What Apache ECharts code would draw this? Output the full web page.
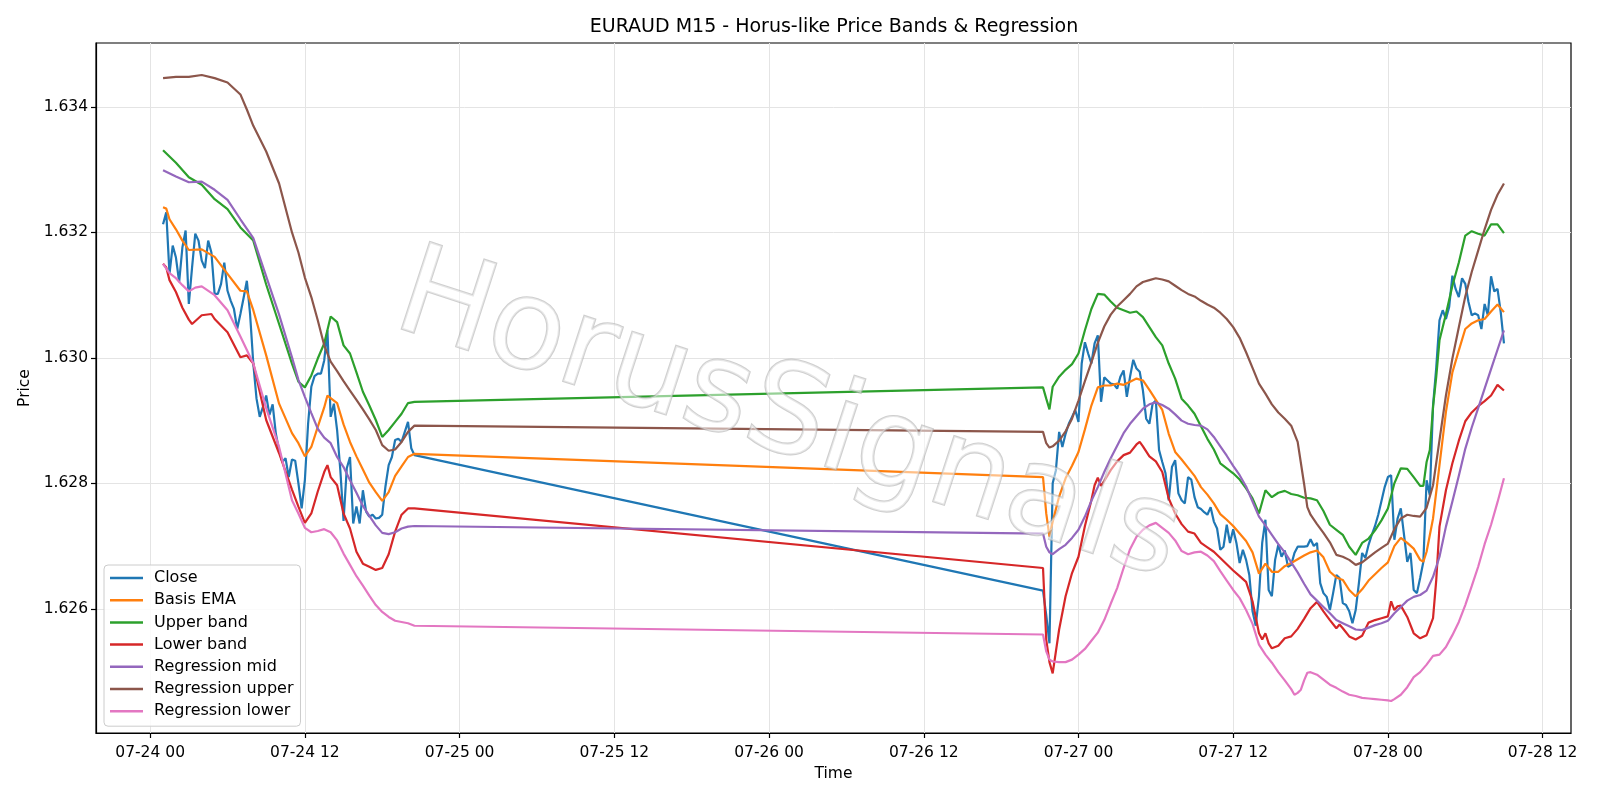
<!DOCTYPE html>
<html>
<head>
<meta charset="utf-8">
<title>EURAUD M15</title>
<script src="https://cdn.jsdelivr.net/npm/echarts@6/dist/echarts.min.js"></script>
<style>
  html, body { margin: 0; padding: 0; background: #fff; }
  #chart { width: 1600px; height: 800px; }
</style>
</head>
<body>
<div id="chart"></div>
<script>
// hours are counted from 2025-07-24 00:00 (UTC)
const BASE_UTC = Date.UTC(2025, 6, 24);
const hoursToMs = h => BASE_UTC + h * 3600 * 1000;

const xTickHours = [0, 12, 24, 36, 48, 60, 72, 84, 96, 108];
const yTicks = [1.626, 1.628, 1.630, 1.632, 1.634];

// Close, 15 min bars: first block starts 07-24 01:00, second block 07-26 21:15
const closeStart1 = 1;
const closeDay1 = [
  1.63213, 1.63232, 1.63134, 1.63179,
  1.63160, 1.63121, 1.63176, 1.63203,
  1.63086, 1.63144, 1.63198, 1.63187,
  1.63155, 1.63143, 1.63187, 1.63168,
  1.63102, 1.63102, 1.63118, 1.63152,
  1.63107, 1.63091, 1.63078, 1.63046,
  1.63070, 1.63096, 1.63123, 1.63070,
  1.62991, 1.62935, 1.62906, 1.62922,
  1.62940, 1.62909, 1.62926, 1.62879,
  1.62853, 1.62834, 1.62840, 1.62810,
  1.62838, 1.62836, 1.62800, 1.62760,
  1.62805, 1.62895, 1.62954, 1.62971,
  1.62975, 1.62975, 1.62996, 1.63044,
  1.62906, 1.62927, 1.62885, 1.62821,
  1.62740, 1.62824, 1.62842, 1.62736,
  1.62763, 1.62736, 1.62789, 1.62755,
  1.62747, 1.62750, 1.62744, 1.62745,
  1.62750, 1.62795, 1.62829, 1.62842,
  1.62869, 1.62871, 1.62866, 1.62882,
  1.62898, 1.62856, 1.62845
];
const closeStart2 = 69.25;
const closeDay2 = [
  1.62629, 1.62590, 1.62545,
  1.62800, 1.62821, 1.62882, 1.62858,
  1.62879, 1.62895, 1.62906, 1.62917,
  1.62898, 1.62991, 1.63025, 1.63007,
  1.62991, 1.63023, 1.63036, 1.62930,
  1.62969, 1.62964, 1.62959, 1.62958,
  1.62951, 1.62970, 1.62980, 1.62938,
  1.62970, 1.62997, 1.62983, 1.62978,
  1.62948, 1.62903, 1.62895, 1.62927,
  1.62932, 1.62853, 1.62834, 1.62816,
  1.62773, 1.62826, 1.62837, 1.62784,
  1.62773, 1.62768, 1.62810, 1.62806,
  1.62778, 1.62762, 1.62759, 1.62754,
  1.62750, 1.62762, 1.62739, 1.62728,
  1.62694, 1.62699, 1.62734, 1.62705,
  1.62727, 1.62705, 1.62673, 1.62694,
  1.62678, 1.62654, 1.62596, 1.62573,
  1.62620, 1.62705, 1.62742, 1.62630,
  1.62620, 1.62678, 1.62702, 1.62683,
  1.62693, 1.62667, 1.62670, 1.62689,
  1.62699, 1.62699, 1.62699, 1.62700,
  1.62711, 1.62700, 1.62705, 1.62641,
  1.62625, 1.62619, 1.62598, 1.62625,
  1.62654, 1.62649, 1.62609, 1.62606,
  1.62596, 1.62577, 1.62598, 1.62641,
  1.62689, 1.62681, 1.62702, 1.62718,
  1.62732, 1.62750, 1.62772, 1.62794,
  1.62810, 1.62813, 1.62710, 1.62744,
  1.62760, 1.62718, 1.62675, 1.62689,
  1.62630, 1.62625, 1.62649, 1.62675,
  1.62805, 1.62781, 1.62924, 1.62985,
  1.63060, 1.63076, 1.63062, 1.63081,
  1.63131, 1.63110, 1.63097, 1.63127,
  1.63118, 1.63089, 1.63068, 1.63071,
  1.63068, 1.63046, 1.63086, 1.63068,
  1.63130, 1.63106, 1.63110, 1.63073,
  1.63023
];

// smoother lines, [hour, price]
const basisEma = [
  [1, 1.63240], [1.25, 1.63238], [1.5, 1.63221], [2, 1.63205], [2.5, 1.63187], [3, 1.63172],
  [4, 1.63173], [5, 1.63161], [6, 1.63134], [7, 1.63107], [7.5, 1.63106], [8, 1.63076],
  [9, 1.63004], [10, 1.62927], [11, 1.62880], [11.5, 1.62864], [12, 1.62843], [12.5, 1.62858],
  [13, 1.62890], [13.5, 1.62921], [13.75, 1.62940], [14, 1.62936], [14.5, 1.62928], [15, 1.62894],
  [15.5, 1.62866], [16, 1.62843], [16.5, 1.62822], [17, 1.62801], [17.5, 1.62786], [18, 1.62772],
  [18.5, 1.62786], [19, 1.62812], [19.5, 1.62827], [20, 1.62842], [20.5, 1.62847],
  [69.25, 1.62810], [69.5, 1.62752], [69.75, 1.62715], [70, 1.62739], [70.5, 1.62779], [71, 1.62808],
  [71.5, 1.62828], [72, 1.62850], [72.5, 1.62886], [73, 1.62924], [73.5, 1.62953], [74, 1.62956],
  [74.5, 1.62956], [75, 1.62959], [75.5, 1.62957], [76, 1.62962], [76.5, 1.62967], [77, 1.62964],
  [77.5, 1.62949], [78, 1.62933], [78.5, 1.62917], [79, 1.62879], [79.5, 1.62850], [80, 1.62838],
  [80.5, 1.62825], [81, 1.62812], [81.5, 1.62794], [82, 1.62782], [82.5, 1.62768], [83, 1.62751],
  [83.5, 1.62742], [84, 1.62732], [84.5, 1.62720], [85, 1.62708], [85.5, 1.62690], [86, 1.62656],
  [86.5, 1.62672], [87, 1.62659], [87.5, 1.62659], [88, 1.62668], [88.5, 1.62673], [89, 1.62679],
  [89.5, 1.62685], [90, 1.62690], [90.5, 1.62693], [91, 1.62682], [91.5, 1.62659], [92, 1.62650],
  [92.5, 1.62646], [93, 1.62630], [93.5, 1.62620], [94, 1.62631], [94.5, 1.62645], [95, 1.62655],
  [95.5, 1.62665], [96, 1.62674], [96.5, 1.62700], [97, 1.62713], [97.5, 1.62705], [98, 1.62696],
  [98.5, 1.62678], [98.75, 1.62675], [99, 1.62691], [99.5, 1.62744], [100, 1.62829], [100.5, 1.62914],
  [101, 1.62977], [101.5, 1.63012], [102, 1.63046], [102.5, 1.63055], [103, 1.63060], [103.5, 1.63062],
  [104, 1.63074], [104.5, 1.63085], [105, 1.63073]
];

const upperBand = [
  [1, 1.63331], [2, 1.63311], [3, 1.63288], [4, 1.63276], [5, 1.63253], [6, 1.63237],
  [7, 1.63208], [8, 1.63187], [9, 1.63117], [10, 1.63054], [11, 1.62991], [11.5, 1.62962],
  [12, 1.62953], [12.5, 1.62972], [13, 1.62999], [13.5, 1.63023], [14, 1.63066], [14.5, 1.63057],
  [15, 1.63020], [15.5, 1.63007], [16, 1.62977], [16.5, 1.62946], [17, 1.62924], [17.5, 1.62901],
  [18, 1.62874], [18.5, 1.62885], [19, 1.62898], [19.5, 1.62911], [20, 1.62928], [20.5, 1.62930],
  [69.25, 1.62953], [69.5, 1.62935], [69.75, 1.62918], [70, 1.62954], [70.5, 1.62970], [71, 1.62981],
  [71.5, 1.62990], [72, 1.63007], [72.5, 1.63044], [73, 1.63078], [73.5, 1.63102], [74, 1.63101],
  [74.5, 1.63090], [75, 1.63080], [75.5, 1.63076], [76, 1.63072], [76.5, 1.63074], [77, 1.63065],
  [77.5, 1.63049], [78, 1.63033], [78.5, 1.63020], [79, 1.62991], [79.5, 1.62967], [80, 1.62935],
  [80.5, 1.62924], [81, 1.62911], [81.5, 1.62891], [82, 1.62871], [82.5, 1.62854], [83, 1.62832],
  [83.5, 1.62824], [84, 1.62816], [84.5, 1.62806], [85, 1.62792], [85.5, 1.62776], [86, 1.62752],
  [86.5, 1.62789], [87, 1.62778], [87.5, 1.62785], [88, 1.62788], [88.5, 1.62783], [89, 1.62781],
  [89.5, 1.62777], [90, 1.62776], [90.5, 1.62773], [91, 1.62756], [91.5, 1.62734], [92, 1.62726],
  [92.5, 1.62718], [93, 1.62699], [93.5, 1.62686], [94, 1.62705], [94.5, 1.62712], [95, 1.62725],
  [95.5, 1.62741], [96, 1.62760], [96.5, 1.62800], [97, 1.62824], [97.5, 1.62823], [98, 1.62810],
  [98.5, 1.62796], [98.75, 1.62796], [99, 1.62834], [99.25, 1.62853], [99.5, 1.62922], [99.75, 1.62970],
  [100, 1.63028], [100.5, 1.63070], [101, 1.63115], [101.5, 1.63152], [102, 1.63195], [102.5, 1.63202],
  [103, 1.63198], [103.5, 1.63195], [104, 1.63213], [104.5, 1.63213], [105, 1.63199]
];

const lowerBand = [
  [1, 1.63150], [1.25, 1.63144], [1.5, 1.63124], [2, 1.63105], [2.5, 1.63080], [3, 1.63061],
  [3.25, 1.63054], [4, 1.63068], [4.75, 1.63070], [5, 1.63062], [6, 1.63041], [7, 1.63001],
  [7.5, 1.63004], [8, 1.62991], [9, 1.62901], [10, 1.62848], [11, 1.62790], [11.5, 1.62763],
  [12, 1.62737], [12.5, 1.62752], [13, 1.62787], [13.5, 1.62818], [13.75, 1.62829], [14, 1.62810],
  [14.5, 1.62797], [15, 1.62752], [15.5, 1.62728], [16, 1.62691], [16.5, 1.62672], [17, 1.62667],
  [17.5, 1.62662], [18, 1.62665], [18.5, 1.62687], [19, 1.62723], [19.5, 1.62750], [20, 1.62760],
  [20.5, 1.62760],
  [69.25, 1.62665], [69.5, 1.62551], [69.75, 1.62515], [70, 1.62497], [70.25, 1.62532], [70.5, 1.62567],
  [71, 1.62620], [71.5, 1.62657], [72, 1.62683], [72.5, 1.62732], [73, 1.62773], [73.25, 1.62797],
  [73.5, 1.62809], [73.75, 1.62796], [74, 1.62804], [74.5, 1.62821], [75, 1.62835], [75.5, 1.62845],
  [76, 1.62849], [76.5, 1.62862], [76.75, 1.62866], [77, 1.62859], [77.5, 1.62843], [78, 1.62835],
  [78.5, 1.62818], [79, 1.62776], [79.5, 1.62752], [80, 1.62735], [80.5, 1.62723], [81, 1.62720],
  [81.5, 1.62705], [82, 1.62698], [82.5, 1.62691], [83, 1.62681], [83.5, 1.62671], [84, 1.62661],
  [84.5, 1.62652], [85, 1.62643], [85.5, 1.62612], [86, 1.62561], [86.25, 1.62551], [86.5, 1.62561],
  [86.75, 1.62545], [87, 1.62537], [87.5, 1.62541], [88, 1.62553], [88.5, 1.62556], [89, 1.62568],
  [89.5, 1.62584], [90, 1.62601], [90.5, 1.62611], [91, 1.62596], [91.5, 1.62582], [92, 1.62569],
  [92.25, 1.62575], [92.5, 1.62569], [93, 1.62556], [93.5, 1.62551], [94, 1.62557], [94.5, 1.62578],
  [95, 1.62582], [95.5, 1.62585], [96, 1.62588], [96.25, 1.62612], [96.5, 1.62598], [96.75, 1.62604],
  [97, 1.62605], [97.5, 1.62587], [98, 1.62561], [98.5, 1.62553], [99, 1.62558], [99.5, 1.62585],
  [99.75, 1.62646], [100, 1.62731], [100.5, 1.62789], [101, 1.62832], [101.5, 1.62868], [102, 1.62899],
  [102.5, 1.62913], [103, 1.62923], [103.5, 1.62931], [104, 1.62940], [104.5, 1.62957], [105, 1.62948]
];

const regressionMid = [
  [1, 1.63299], [2, 1.63289], [3, 1.63280], [4, 1.63281], [5, 1.63268], [6, 1.63252],
  [7, 1.63221], [8, 1.63191], [9, 1.63130], [10, 1.63069], [11, 1.63001], [11.5, 1.62965],
  [12, 1.62938], [12.5, 1.62912], [13, 1.62887], [13.5, 1.62873], [14, 1.62864], [14.5, 1.62842],
  [15, 1.62826], [15.5, 1.62805], [16, 1.62785], [16.5, 1.62764], [17, 1.62748], [17.5, 1.62733],
  [18, 1.62721], [18.5, 1.62719], [19, 1.62722], [19.5, 1.62728], [20, 1.62731], [20.5, 1.62732],
  [69.25, 1.62720], [69.5, 1.62699], [69.75, 1.62690], [70, 1.62687], [70.5, 1.62695], [71, 1.62702],
  [71.5, 1.62713], [72, 1.62726], [72.5, 1.62747], [73, 1.62772], [73.5, 1.62794], [74, 1.62818],
  [74.5, 1.62840], [75, 1.62860], [75.5, 1.62880], [76, 1.62895], [76.5, 1.62907], [77, 1.62919],
  [77.5, 1.62926], [78, 1.62929], [78.5, 1.62925], [79, 1.62919], [79.5, 1.62910], [80, 1.62900],
  [80.5, 1.62895], [81, 1.62893], [81.5, 1.62892], [82, 1.62886], [82.5, 1.62874], [83, 1.62859],
  [83.5, 1.62844], [84, 1.62828], [84.5, 1.62813], [85, 1.62795], [85.5, 1.62771], [86, 1.62747],
  [86.5, 1.62733], [87, 1.62718], [87.5, 1.62703], [88, 1.62690], [88.5, 1.62674], [89, 1.62658],
  [89.5, 1.62640], [90, 1.62623], [90.5, 1.62613], [91, 1.62603], [91.5, 1.62593], [92, 1.62582],
  [92.5, 1.62577], [93, 1.62572], [93.5, 1.62567], [94, 1.62566], [94.5, 1.62570], [95, 1.62574],
  [95.5, 1.62577], [96, 1.62581], [96.5, 1.62593], [97, 1.62603], [97.5, 1.62613], [98, 1.62619],
  [98.5, 1.62622], [99, 1.62629], [99.5, 1.62651], [100, 1.62683], [100.5, 1.62731], [101, 1.62771],
  [101.5, 1.62812], [102, 1.62855], [102.5, 1.62889], [103, 1.62920], [103.5, 1.62951], [104, 1.62982],
  [104.5, 1.63013], [105, 1.63044]
];

const regressionUpper = [
  [1, 1.63446], [2, 1.63448], [3, 1.63448], [4, 1.63451], [5, 1.63446], [6, 1.63439],
  [7, 1.63420], [7.5, 1.63396], [8, 1.63370], [9, 1.63329], [10, 1.63278], [11, 1.63200],
  [11.5, 1.63168], [12, 1.63128], [12.5, 1.63097], [13, 1.63060], [13.5, 1.63020], [14, 1.62994],
  [14.5, 1.62979], [15, 1.62963], [15.5, 1.62948], [16, 1.62933], [16.5, 1.62918], [17, 1.62902],
  [17.5, 1.62885], [18, 1.62861], [18.5, 1.62852], [19, 1.62854], [19.5, 1.62866], [20, 1.62882],
  [20.5, 1.62892],
  [69.25, 1.62882], [69.5, 1.62864], [69.75, 1.62857], [70, 1.62859], [70.5, 1.62868], [71, 1.62883],
  [71.5, 1.62903], [72, 1.62932], [72.5, 1.62963], [73, 1.62993], [73.5, 1.63024], [74, 1.63050],
  [74.5, 1.63069], [75, 1.63082], [75.5, 1.63092], [76, 1.63102], [76.5, 1.63114], [77, 1.63121],
  [77.5, 1.63124], [78, 1.63127], [78.5, 1.63125], [79, 1.63122], [79.5, 1.63115], [80, 1.63108],
  [80.5, 1.63102], [81, 1.63098], [81.5, 1.63091], [82, 1.63085], [82.5, 1.63080], [83, 1.63072],
  [83.5, 1.63062], [84, 1.63049], [84.5, 1.63032], [85, 1.63009], [85.5, 1.62984], [86, 1.62959],
  [86.5, 1.62943], [87, 1.62926], [87.5, 1.62913], [88, 1.62903], [88.5, 1.62892], [89, 1.62866],
  [89.5, 1.62799], [89.75, 1.62762], [90, 1.62750], [90.5, 1.62735], [91, 1.62721], [91.5, 1.62706],
  [92, 1.62686], [92.5, 1.62683], [93, 1.62678], [93.5, 1.62670], [94, 1.62674], [94.5, 1.62682],
  [95, 1.62690], [95.5, 1.62697], [96, 1.62704], [96.5, 1.62727], [97, 1.62744], [97.5, 1.62750],
  [98, 1.62748], [98.5, 1.62747], [99, 1.62761], [99.5, 1.62797], [100, 1.62869], [100.5, 1.62940],
  [101, 1.62999], [101.5, 1.63049], [102, 1.63098], [102.5, 1.63137], [103, 1.63171], [103.5, 1.63205],
  [104, 1.63236], [104.5, 1.63260], [105, 1.63278]
];

const regressionLower = [
  [1, 1.63150], [1.5, 1.63135], [2, 1.63127], [2.5, 1.63116], [3, 1.63106], [3.5, 1.63112],
  [4, 1.63114], [5, 1.63100], [6, 1.63076], [7, 1.63034], [8, 1.62991], [9, 1.62920],
  [10, 1.62858], [11, 1.62773], [11.5, 1.62752], [12, 1.62729], [12.5, 1.62722], [13, 1.62724],
  [13.5, 1.62727], [14, 1.62722], [14.5, 1.62709], [15, 1.62688], [15.5, 1.62670], [16, 1.62652],
  [16.5, 1.62637], [17, 1.62621], [17.5, 1.62606], [18, 1.62595], [18.5, 1.62587], [19, 1.62581],
  [19.5, 1.62579], [20, 1.62577], [20.5, 1.62573],
  [69.25, 1.62559], [69.5, 1.62532], [69.75, 1.62519], [70, 1.62516], [70.5, 1.62515], [71, 1.62515],
  [71.5, 1.62519], [72, 1.62527], [72.5, 1.62536], [73, 1.62549], [73.5, 1.62562], [74, 1.62582],
  [74.5, 1.62608], [75, 1.62633], [75.5, 1.62665], [76, 1.62695], [76.5, 1.62715], [77, 1.62726],
  [77.5, 1.62733], [78, 1.62737], [78.5, 1.62729], [79, 1.62721], [79.5, 1.62709], [80, 1.62692],
  [80.5, 1.62687], [81, 1.62690], [81.5, 1.62691], [82, 1.62685], [82.5, 1.62676], [83, 1.62660],
  [83.5, 1.62645], [84, 1.62630], [84.5, 1.62617], [85, 1.62598], [85.5, 1.62576], [86, 1.62543],
  [86.5, 1.62527], [87, 1.62514], [87.5, 1.62499], [88, 1.62486], [88.5, 1.62472], [88.75, 1.62463],
  [89, 1.62466], [89.25, 1.62471], [89.5, 1.62486], [89.75, 1.62498], [90, 1.62499], [90.5, 1.62495],
  [91, 1.62487], [91.5, 1.62479], [92, 1.62474], [92.5, 1.62468], [93, 1.62463], [93.5, 1.62461],
  [94, 1.62458], [94.5, 1.62457], [95, 1.62456], [95.5, 1.62455], [96, 1.62454], [96.25, 1.62453],
  [96.5, 1.62456], [97, 1.62463], [97.5, 1.62475], [98, 1.62491], [98.5, 1.62499], [99, 1.62511],
  [99.5, 1.62525], [100, 1.62527], [100.5, 1.62539], [101, 1.62558], [101.5, 1.62579], [102, 1.62606],
  [102.5, 1.62636], [103, 1.62667], [103.5, 1.62703], [104, 1.62734], [104.5, 1.62770], [105, 1.62808]
];

const FONT = 'DejaVu Sans';

function closeSeriesData() {
  const pts = [];
  closeDay1.forEach((v, i) => pts.push([hoursToMs(closeStart1 + i * 0.25), v]));
  closeDay2.forEach((v, i) => pts.push([hoursToMs(closeStart2 + i * 0.25), v]));
  return pts;
}
const toSeries = arr => arr.map(([h, v]) => [hoursToMs(h), v]);

function fmtTick(v) {
  const d = new Date(v);
  const p = n => String(n).padStart(2, '0');
  return p(d.getUTCMonth() + 1) + '-' + p(d.getUTCDate()) + ' ' + p(d.getUTCHours());
}

function line(name, color, data) {
  return {
    name: name,
    type: 'line',
    data: data,
    color: color,
    showSymbol: false,
    symbol: 'none',
    lineStyle: { width: 2.2, color: color },
    emphasis: { disabled: true }
  };
}

const chart = echarts.init(document.getElementById('chart'), null, { renderer: 'canvas' });
chart.setOption({
  animation: false,
  backgroundColor: '#fff',
  textStyle: { fontFamily: FONT },
  title: {
    text: 'EURAUD M15 - Horus-like Price Bands & Regression',
    left: 834,
    top: 18,
    padding: 0,
    textAlign: 'center',
    textStyle: { fontFamily: FONT, fontSize: 19, fontWeight: 'normal', color: '#000' }
  },
  grid: {
    left: 96, right: 29, top: 43, bottom: 67,
    show: true, borderColor: '#000', borderWidth: 1.2, backgroundColor: '#fff'
  },
  legend: {
    orient: 'vertical',
    left: 104,
    top: 565,
    padding: [5, 7, 7, 6],
    itemGap: 6.2,
    itemWidth: 33,
    itemHeight: 2.5,
    icon: 'rect',
    backgroundColor: 'rgba(255,255,255,0.85)',
    borderColor: '#cccccc',
    borderWidth: 1,
    borderRadius: 4,
    z: 10,
    textStyle: { fontFamily: FONT, fontSize: 16, color: '#000', lineHeight: 16, padding: [0, 0, 0, 6] }
  },
  xAxis: {
    type: 'value',
    min: hoursToMs(-4.2),
    max: hoursToMs(110.2),
    name: 'Time',
    nameLocation: 'middle',
    nameGap: 32,
    nameTextStyle: { fontFamily: FONT, fontSize: 15.5, color: '#000' },
    axisLine: { show: true, onZero: false, lineStyle: { color: '#000', width: 1.2 } },
    axisTick: { show: true, length: 5, lineStyle: { color: '#000', width: 1.2 },
      customValues: xTickHours.map(hoursToMs) },
    axisLabel: { fontFamily: FONT, fontSize: 15.5, color: '#000', margin: 12,
      customValues: xTickHours.map(hoursToMs), formatter: fmtTick },
    splitLine: { show: true, lineStyle: { color: '#e4e4e4', width: 1 } }
  },
  yAxis: {
    type: 'value',
    min: 1.62402,
    max: 1.63502,
    name: 'Price',
    nameLocation: 'middle',
    nameGap: 60,
    nameTextStyle: { fontFamily: FONT, fontSize: 15.5, color: '#000' },
    axisLine: { show: true, lineStyle: { color: '#000', width: 1.2 } },
    axisTick: { show: true, length: 5, lineStyle: { color: '#000', width: 1.2 }, customValues: yTicks },
    axisLabel: { fontFamily: FONT, fontSize: 15.5, color: '#000', margin: 8,
      customValues: yTicks, formatter: v => v.toFixed(3) },
    splitLine: { show: true, lineStyle: { color: '#e4e4e4', width: 1 } }
  },
  graphic: [{
    type: 'text',
    x: 788,
    y: 420,
    rotation: -18 * Math.PI / 180,
    z: 100,
    silent: true,
    style: {
      text: 'HorusSignals',
      font: 'normal 125px "DejaVu Sans"',
      align: 'center',
      verticalAlign: 'middle',
      fill: 'rgba(255,255,255,0.5)',
      stroke: 'rgba(175,175,175,0.6)',
      lineWidth: 2.2,
      shadowColor: 'rgba(0,0,0,0.18)',
      shadowOffsetX: 4,
      shadowOffsetY: 4,
      shadowBlur: 3
    }
  }],
  series: [
    line('Close', '#1f77b4', closeSeriesData()),
    line('Basis EMA', '#ff7f0e', toSeries(basisEma)),
    line('Upper band', '#2ca02c', toSeries(upperBand)),
    line('Lower band', '#d62728', toSeries(lowerBand)),
    line('Regression mid', '#9467bd', toSeries(regressionMid)),
    line('Regression upper', '#8c564b', toSeries(regressionUpper)),
    line('Regression lower', '#e377c2', toSeries(regressionLower))
  ]
});
</script>
</body>
</html>
